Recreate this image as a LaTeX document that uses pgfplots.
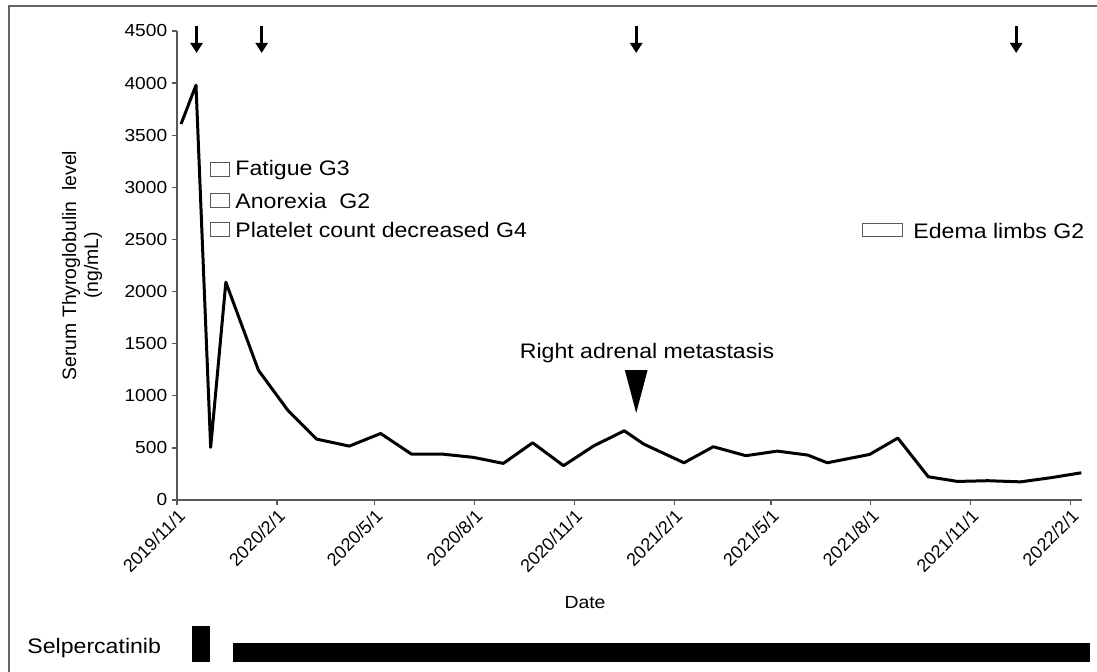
\documentclass[border=0pt]{standalone}
\usepackage{fontspec}
\setmainfont{Liberation Sans}
\usepackage{pgfplots}
\pgfplotsset{compat=1.18}
\usetikzlibrary{arrows.meta}
\definecolor{axgray}{HTML}{595959}
\definecolor{framegray}{HTML}{666666}
\begin{document}
\begin{tikzpicture}
\useasboundingbox (0,0) rectangle (548.5pt,336pt);
\begin{axis}[
  at={(88.5pt,86pt)}, anchor=south west, scale only axis,
  width=452.7pt, height=234.5pt,
  xmin=0, xmax=834, ymin=0, ymax=4500,
  axis lines*=left,
  axis line style={-, axgray, line width=0.7pt},
  xtick={0,92,182,274,366,458,547,639,731,823},
  xticklabels={2019/11/1,2020/2/1,2020/5/1,2020/8/1,2020/11/1,2021/2/1,2021/5/1,2021/8/1,2021/11/1,2022/2/1},
  ytick={0,500,...,4500},
  tick align=outside,
  tick style={axgray, line width=0.7pt},
  major tick length=2.5pt,
  /pgf/number format/assume math mode=true,
  /pgf/number format/1000 sep={},
  scaled y ticks=false,
  xticklabel style={rotate=45, anchor=north east, inner sep=1pt, font=\fontsize{9}{10}\selectfont},
  yticklabel style={font=\fontsize{8.7}{10}\selectfont, xscale=1.1, inner sep=2pt},
  clip=false,
]
\addplot[black, line width=1.5pt, line join=round] coordinates {
(3.7,3607) (17.5,3980) (31,505) (45,2090) (75,1245) (102,862) (128.7,584)
(158.7,517) (187.6,638) (216,440) (244.7,440) (273,409) (300.6,351) (327.6,549)
(356,329) (384,520) (412,664) (430,536) (467,357) (494,511) (524,425) (553,469)
(581,431) (599,357) (638,437) (664,594) (692,223) (719,178) (747,185) (777,174)
(805,214) (833,261)
};
% treatment arrows
\addplot[black, line width=1.5pt, -{Triangle[width=6pt,length=5pt]}] coordinates {(18,4548) (18,4289)};
\addplot[black, line width=1.5pt, -{Triangle[width=6pt,length=5pt]}] coordinates {(78,4548) (78,4289)};
\addplot[black, line width=1.5pt, -{Triangle[width=6pt,length=5pt]}] coordinates {(423,4548) (423,4289)};
\addplot[black, line width=1.5pt, -{Triangle[width=6pt,length=5pt]}] coordinates {(773,4548) (773,4289)};
% metastasis marker
\addplot[fill=black, draw=none] coordinates {(412.5,1247) (433.5,1247) (423,835)} -- cycle;
% Selpercatinib bars
\addplot[fill=black, draw=none] coordinates {(13.8,-1209) (30.4,-1209) (30.4,-1554) (13.8,-1554)} -- cycle;
\addplot[fill=black, draw=none] coordinates {(51.6,-1372) (841,-1372) (841,-1554) (51.6,-1554)} -- cycle;
\end{axis}
\begin{scope}[x=0.5pt, y=-0.5pt, shift={(0,336pt)}]
  \draw[framegray, line width=1pt] (9,680) -- (9,6) -- (1100,6);
  % y label
  \node[rotate=90, align=center, font=\fontsize{9.7}{11}\selectfont] at (82,265.5)
    {Serum Thyroglobulin~~level\\(ng/mL)};
  \node[font=\fontsize{8.8}{10}\selectfont, xscale=1.1] at (585,603) {Date};
  % AE legend
  \draw[axgray, line width=0.5pt] (210,163) rectangle (229,177);
  \draw[axgray, line width=0.5pt] (210,194) rectangle (229,208);
  \draw[axgray, line width=0.5pt] (210,223) rectangle (229,237);
  \node[anchor=west, inner sep=0pt, xscale=1.1, font=\fontsize{10.5}{12}\selectfont] at (235,170) {Fatigue G3};
  \node[anchor=west, inner sep=0pt, xscale=1.1, font=\fontsize{10.5}{12}\selectfont] at (235,201) {Anorexia~~G2};
  \node[anchor=west, inner sep=0pt, xscale=1.1, font=\fontsize{10.5}{12}\selectfont] at (235,230) {Platelet count decreased G4};
  \draw[axgray, line width=0.5pt] (862,224) rectangle (902,237);
  \node[anchor=west, inner sep=0pt, xscale=1.1, font=\fontsize{10.5}{12}\selectfont] at (913,231) {Edema limbs G2};
  \node[inner sep=0pt, xscale=1.1, font=\fontsize{10.5}{12}\selectfont] at (647,353) {Right adrenal metastasis};
  \node[anchor=west, inner sep=0pt, xscale=1.1, font=\fontsize{10.5}{12}\selectfont] at (27,648) {Selpercatinib};
\end{scope}
\end{tikzpicture}
\end{document}
